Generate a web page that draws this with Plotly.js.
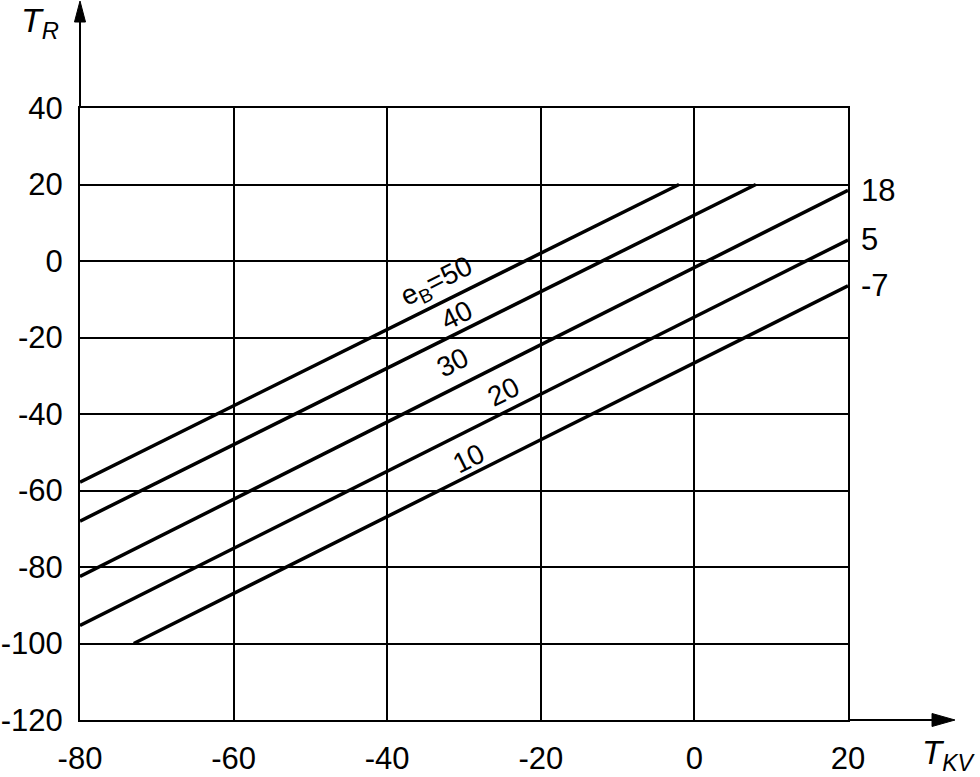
<!DOCTYPE html>
<html>
<head>
<meta charset="utf-8">
<script src="https://cdn.plot.ly/plotly-3.0.1.min.js"></script>
<style>html,body{margin:0;padding:0;background:#fff;}#chart{width:980px;height:777px;}</style>
</head>
<body>
<div id="chart"></div>
<script>
// Data
const eBValues = [50, 40, 30, 20, 10];
const tkvStart = [-80, -80, -80, -80, -73];
const trStart = [-57.8, -68, -82.5, -95.3, -100];
const tkvEnd = [-2, 8, 20, 20, 20];
const trEnd = [20, 20, 18.5, 5.5, -6.5];
const endLabels = ['', '', '18', '5', '-7'];
const xTicks = [-80, -60, -40, -20, 0, 20];
const yTicks = [40, 20, 0, -20, -40, -60, -80, -100, -120];
const lineLabels = ['e<sub>B</sub>=50', '40', '30', '20', '10'];

const FONT = 'Liberation Sans, Arial, Helvetica, sans-serif';

const traces = eBValues.map((e, i) => ({
  type: 'scatter', mode: 'lines',
  x: [tkvStart[i], tkvEnd[i]],
  y: [trStart[i], trEnd[i]],
  line: {color: '#000', width: 3.5},
  hoverinfo: 'skip', showlegend: false
}));

// label placement along the lines (layout only)
const labelPos = [[-33.5, -5.6], [-31, -14.2], [-31.5, -26.5], [-24.8, -34.2], [-29.4, -51.6]];

const annotations = [];
lineLabels.forEach((t, i) => {
  annotations.push({
    x: labelPos[i][0], y: labelPos[i][1], xref: 'x', yref: 'y',
    text: t, showarrow: false, textangle: -26.5,
    font: {family: FONT, size: 28, color: '#000'}
  });
});
endLabels.forEach((t, i) => {
  if (!t) return;
  annotations.push({
    x: tkvEnd[i], y: trEnd[i], xref: 'x', yref: 'y',
    text: t, showarrow: false, xanchor: 'left', yanchor: 'middle', xshift: 11,
    font: {family: FONT, size: 31, color: '#000'}
  });
});
annotations.push({
  xref: 'paper', yref: 'paper', x: -0.052, y: 1.14, xanchor: 'center', yanchor: 'middle',
  text: '<i>T<sub>R</sub></i>', showarrow: false,
  font: {family: FONT, size: 34, color: '#000'}
});
annotations.push({
  xref: 'paper', yref: 'paper', x: 1.131, y: -0.058, xanchor: 'center', yanchor: 'middle',
  text: '<i>T<sub>KV</sub></i>', showarrow: false,
  font: {family: FONT, size: 33, color: '#000'}
});

const shapes = [
  {type: 'line', xref: 'paper', yref: 'paper', x0: 1, x1: 1.115, y0: 0, y1: 0, line: {color: '#000', width: 2}},
  {type: 'line', xref: 'paper', yref: 'paper', x0: 0, x1: 0, y0: 1, y1: 1.145, line: {color: '#000', width: 2}},
  {type: 'path', xref: 'paper', yref: 'paper', path: 'M 1.1393 0 L 1.1094 0.0106 L 1.1094 -0.0106 Z', fillcolor: '#000', line: {color: '#000', width: 1}},
  {type: 'path', xref: 'paper', yref: 'paper', path: 'M 0 1.1748 L 0.0072 1.1405 L -0.0072 1.1405 Z', fillcolor: '#000', line: {color: '#000', width: 1}}
];

const axisCommon = {
  showgrid: true, gridcolor: '#000', gridwidth: 2,
  zeroline: false, showline: true, mirror: true, linecolor: '#000', linewidth: 2,
  ticks: '', tickfont: {family: FONT, size: 31, color: '#000'}, fixedrange: true
};

const layout = {
  width: 980, height: 777,
  margin: {l: 80, r: 132, t: 108, b: 57, pad: 0},
  paper_bgcolor: '#fff', plot_bgcolor: '#fff',
  showlegend: false,
  xaxis: Object.assign({}, axisCommon, {range: [-80, 20], tickvals: xTicks, ticktext: xTicks.map(String), ticklabelstandoff: 10}),
  yaxis: Object.assign({}, axisCommon, {range: [-120, 40], tickvals: yTicks, ticktext: yTicks.map(String), ticklabelstandoff: 9}),
  annotations: annotations,
  shapes: shapes,
  font: {family: FONT, color: '#000'}
};

Plotly.newPlot('chart', traces, layout, {displayModeBar: false, staticPlot: true});
</script>
</body>
</html>
